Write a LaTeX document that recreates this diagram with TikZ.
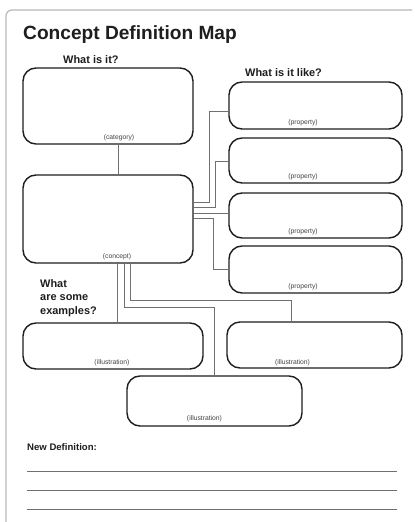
\documentclass[tikz,border=0pt]{standalone}
\usepackage{fontspec}
\setmainfont{Liberation Sans}
\usetikzlibrary{calc}
\definecolor{framegray}{HTML}{B8B8B8}
\definecolor{linegray}{HTML}{707070}
\definecolor{boxdark}{HTML}{1E1E1E}
\definecolor{labgray}{HTML}{444444}
\tikzset{
  mapbox/.style={draw=boxdark, line width=1.4bp, rounded corners=13bp, inner sep=0pt},
  boxlab/.style={inner sep=0pt, font=\fontsize{6.8}{7}\selectfont, text=labgray},
  heading/.style={inner sep=0pt, font=\bfseries\fontsize{11}{13.5}\selectfont, text=boxdark},
  conn/.style={draw=linegray, line width=1bp},
  writeline/.style={draw=linegray, line width=0.9bp}
}
\begin{document}
\begin{tikzpicture}[x=1bp,y=-1bp]
\useasboundingbox (0,0) rectangle (414,522);
\fill[white] (0,0) rectangle (414,522);
% frame
\draw[framegray, line width=1.2bp, rounded corners=6bp] (6,523) -- (6,10) -- (412,10);
% title
\node[anchor=base west, inner sep=0pt, font=\bfseries\fontsize{19.2}{21}\selectfont, text=boxdark] (title) at (23,40) {Concept Definition Map};
% headings
\node[heading, anchor=west] (hwhat) at (63,60) {What is it?};
\node[heading, anchor=west] (hlike) at (245,73) {What is it like?};
\node[heading, anchor=north west, align=left] (hex) at (40,279) {What\\are some\\examples?};
\node[anchor=west, inner sep=0pt, font=\bfseries\fontsize{9.6}{11}\selectfont, text=boxdark] (hnew) at (27,447) {New Definition:};
% boxes
\node[mapbox, minimum width=170bp, minimum height=76bp] (cat) at (108,106) {};
\node[mapbox, minimum width=170bp, minimum height=88bp] (concept) at (108,219) {};
\node[mapbox, minimum width=173bp, minimum height=47bp] (prop1) at (315.5,105.5) {};
\node[mapbox, minimum width=173bp, minimum height=45bp] (prop2) at (315.5,160.5) {};
\node[mapbox, minimum width=173bp, minimum height=45bp] (prop3) at (315.5,215.5) {};
\node[mapbox, minimum width=173bp, minimum height=47bp] (prop4) at (315.5,269.5) {};
\node[mapbox, minimum width=180bp, minimum height=46bp] (ill1) at (113,346) {};
\node[mapbox, minimum width=175bp, minimum height=46bp] (ill2) at (314.5,345) {};
\node[mapbox, minimum width=175bp, minimum height=50bp] (ill3) at (214.5,401) {};
% box labels
\node[boxlab] (catlab) at ($(cat.south)+(11,-7)$) {(category)};
\node[boxlab] (conlab) at ($(concept.south)+(9,-7)$) {(concept)};
\node[boxlab] (p1lab) at ($(prop1.south)+(-12.5,-7)$) {(property)};
\node[boxlab] (p2lab) at ($(prop2.south)+(-12.5,-7)$) {(property)};
\node[boxlab] (p3lab) at ($(prop3.south)+(-12.5,-7)$) {(property)};
\node[boxlab] (p4lab) at ($(prop4.south)+(-12.5,-7)$) {(property)};
\node[boxlab] (i1lab) at ($(ill1.south)+(-1,-7)$) {(illustration)};
\node[boxlab] (i2lab) at ($(ill2.south)+(-22,-6)$) {(illustration)};
\node[boxlab] (i3lab) at ($(ill3.south)+(-10,-8)$) {(illustration)};
% connectors
\coordinate (ca) at ($(cat.south)+(10,0)$);
\draw[conn] (ca) -- (ca |- concept.north);
\draw[conn] ($(concept.east)+(0,-17)$) -- ++(16,0) |- ($(prop1.west)+(0,6.5)$);
\draw[conn] ($(concept.east)+(0,-12)$) -- ++(22,0) |- ($(prop2.west)+(0,1.5)$);
\coordinate (p3a) at ($(prop3.west)+(0,-2.5)$);
\draw[conn] (concept.east |- p3a) -- (p3a);
\draw[conn] ($(concept.east)+(0,-1)$) -- ++(20,0) |- (prop4.west);
\coordinate (c1) at ($(concept.south)+(9,0)$);
\coordinate (c2) at ($(concept.south)+(16,0)$);
\coordinate (c3) at ($(concept.south)+(22,0)$);
\draw[conn] (c1) -- (c1 |- ill1.north);
\draw[conn] (c2) -- ++(0,44) -| (ill3.north);
\draw[conn] (c3) -- ++(0,37) -| ($(ill2.north)+(-23.5,0)$);
% writing lines
\draw[writeline] (27,471) -- (397,471);
\draw[writeline] (27,490) -- (397,490);
\draw[writeline] (27,509) -- (397,509);
\end{tikzpicture}
\end{document}
